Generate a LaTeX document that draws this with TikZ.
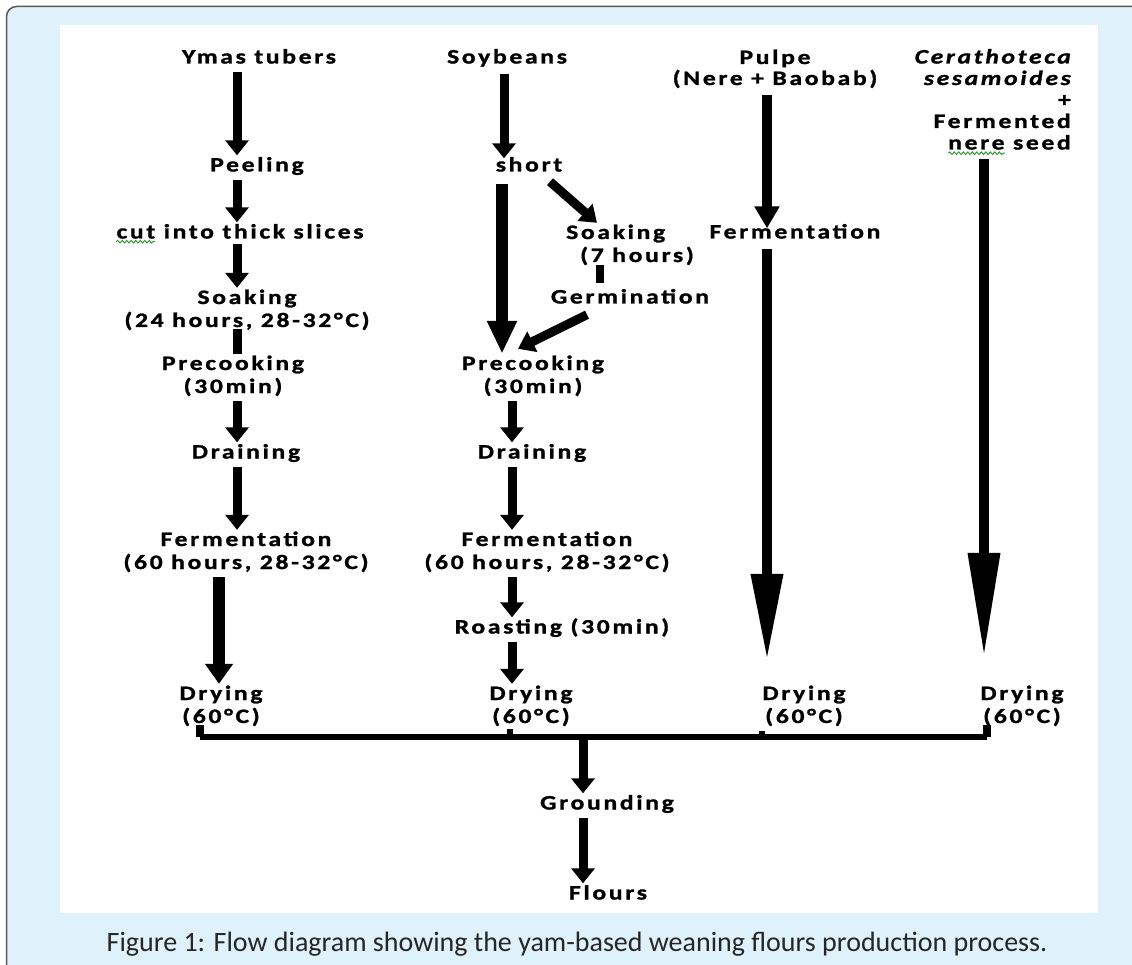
\documentclass[tikz,border=0pt]{standalone}
\usepackage{fontspec}
\setmainfont{Carlito}
\newfontfamily\diagfont[LetterSpace=13,FakeStretch=1.25,FakeBold=1.2]{Carlito}
\usetikzlibrary{arrows.meta,calc,decorations.pathmorphing}
\definecolor{bgblue}{RGB}{223,241,251}
\definecolor{squig}{RGB}{40,150,40}
\newcommand\ts{\rule{0pt}{16pt}}
\newcommand\bs{\rule[-5pt]{0pt}{5pt}}
\newcommand\dfont{\diagfont\bfseries\fontsize{20.5}{23}\selectfont}
\newlength\nerew
\newlength\nerewA
\newlength\cutw
\begin{document}
\settowidth\nerew{\dfont nere seed}%
\settowidth\nerewA{\dfont nere}%
\settowidth\cutw{\dfont cut}%
\begin{tikzpicture}[x=1pt,y=-1pt,
  lbl/.style={font=\dfont, inner sep=0pt, align=center, text=black},
  one/.style={lbl, text height=16pt, text depth=5pt},
  arr/.style={line width=9pt, shorten <=3pt, -{Triangle[width=23pt,length=15pt]}},
  arrbig/.style={line width=11.5pt, shorten <=3pt, -{Triangle[width=27pt,length=20pt]}},
  arrvert/.style={line width=12pt, shorten <=7pt, -{Triangle[width=28pt,length=33pt]}},
  arrdiag/.style={line width=9pt, -{Triangle[width=22pt,length=16pt]}},
  arrlong/.style={line width=10pt, -{Triangle[width=30pt,length=#1]}},
  barline/.style={line width=9pt},
  squiggle/.style={draw=squig, line width=0.9pt, decorate, decoration={snake, amplitude=1.3pt, segment length=4.5pt}},
]
\useasboundingbox (0,0) rectangle (1132,965);
\begin{scope}
  \clip (0,0) rectangle (1132,965);
  \draw[draw=black!65, line width=1.5pt, fill=bgblue, rounded corners=10pt] (6.5,6.5) rectangle (1160,1000);
\end{scope}
\fill[white] (60,25) rectangle (1098,913);

% column x positions
\coordinate (X1) at (237,0);
\coordinate (X1b) at (219,0);
\coordinate (X2) at (512,0);
\coordinate (X2a) at (504,0);
\coordinate (X2v) at (502,0);
\coordinate (X2s) at (600,0);
\coordinate (X3) at (767,0);
\coordinate (X4) at (984,0);

% column 1
\node[one] (y1) at (259,58) {Ymas tubers};
\node[one] (y2) at (257,166) {Peeling};
\node[one] (y3) at (240,233) {cut into thick slices};
\node[lbl] (y4) at (247,310) {\ts Soaking\\(24 hours, 28-32°C)\bs};
\node[lbl] (y5) at (233,376) {\ts Precooking\\(30min)\bs};
\node[one] (y6) at (246,453) {Draining};
\node[lbl] (y7) at (246,552) {\ts Fermentation\\(60 hours, 28-32°C)\bs};
\node[lbl] (y8) at (221,706) {\ts Drying\\(60°C)\bs};

% column 2
\node[one] (s1) at (507,58) {Soybeans};
\node[one] (s2) at (529,166) {short};
\node[lbl, align=left] (s3) at (630,245) {\ts Soaking\\\hspace*{14pt}(7 hours)\bs};
\node[one] (s4) at (630,298) {Germination};
\node[lbl] (s5) at (533,376) {\ts Precooking\\(30min)\bs};
\node[one] (s6) at (532,453) {Draining};
\node[lbl] (s7) at (547,552) {\ts Fermentation\\(60 hours, 28-32°C)\bs};
\node[one] (s8) at (562,628) {Roasting (30min)};
\node[lbl] (s9) at (531,706) {\ts Drying\\(60°C)\bs};

% column 3
\node[lbl, font=\diagfont\bfseries\fontsize{20.5}{21}\selectfont] (p1) at (775,69) {\ts Pulpe\\(Nere + Baobab)\bs};
\node[one] (p2) at (795,233) {Fermentation};
\node[lbl] (p3) at (804,706) {\ts Drying\\(60°C)\bs};

% column 4
\node[lbl, align=right, anchor=east, font=\diagfont\bfseries\fontsize{20.5}{21.5}\selectfont] (c1) at (1071,101)
  {\ts{\itshape Cerathoteca}\\{\itshape sesamoides}\\+\\Fermented\\nere seed\bs};
\node[lbl] (c2) at (1022,706) {\ts Drying\\(60°C)\bs};

% bottom
\node[one] (g) at (607,804) {Grounding};
\node[one] (f) at (608,894) {Flours};

% spell-check squiggles
\draw[squiggle] ($(y3.south west)+(0pt,2pt)$) -- ++(\cutw,0pt);
\draw[squiggle] ($(c1.south east)+(-\nerew,1.5pt)$) -- ++(\nerewA,0pt);

% column 1 arrows
\draw[arr] (y1.south -| X1) -- (y2.north -| X1);
\draw[arr] (y2.south -| X1) -- (y3.north -| X1);
\draw[arr, shorten <=0pt] (y3.south -| X1) -- (y4.north -| X1);
\draw[barline, shorten <=-3.5pt] (y4.south -| X1) -- (y5.north -| X1);
\draw[arr] (y5.south -| X1) -- (y6.north -| X1);
\draw[arr] (y6.south -| X1) -- (y7.north -| X1);
\draw[arrbig] (y7.south -| X1b) -- (y8.north -| X1b);

% column 2 arrows
\draw[arr, shorten <=5pt, shorten >=-3pt] (s1.south -| X2a) -- (s2.north -| X2a);
\draw[arrvert] (s2.south -| X2v) -- (s5.north -| X2v);
\draw[arrdiag] ($(s2.south)+(21,5)$) -- ($(s3.north)+(-33,0)$);
\draw[line width=8pt, shorten <=-2pt, shorten >=4pt] (s3.south -| X2s) -- (s4.north -| X2s);
\draw[arrdiag] ($(s4.south)+(-43,6)$) -- ($(s5.north)+(-15,-5)$);
\draw[arr] (s5.south -| X2) -- (s6.north -| X2);
\draw[arr] (s6.south -| X2) -- (s7.north -| X2);
\draw[arr] (s7.south -| X2) -- (s8.north -| X2);
\draw[arr] (s8.south -| X2) -- (s9.north -| X2);

% column 3 and 4 arrows
\draw[line width=10pt, shorten <=5pt, shorten >=-6pt, -{Triangle[width=24pt,length=22pt]}] (p1.south -| X3) -- (p2.north -| X3);
\draw[arrlong=87pt, shorten <=5pt, shorten >=23pt] (p2.south -| X3) -- (p3.north -| X3);
\draw[arrlong=105pt, shorten <=4pt, shorten >=26pt] (c1.south -| X4) -- (c2.north -| X4);

% joining bar
\coordinate (j1) at (200,737);
\coordinate (j2) at (510,737);
\coordinate (j3) at (762,737);
\coordinate (j4) at (987,737);
\coordinate (jm) at (583,737);
\draw[line width=8pt, shorten <=-3pt] (y8.south -| j1) -- (j1);
\draw[line width=6pt, shorten <=1pt, shorten >=3pt] (s9.south -| j2) -- (j2);
\draw[line width=6pt, shorten <=3pt, shorten >=3pt] (p3.south -| j3) -- (j3);
\draw[line width=8pt, shorten <=-3pt] (c2.south -| j4) -- (j4);
\draw[line width=6pt] (j1) -- (j4);
\draw[arr, shorten <=0pt] (jm) -- (g.north -| jm);
\draw[arr] (g.south -| jm) -- (f.north -| jm);

% caption
\node[font=\fontsize{28}{32}\selectfont, text=black!85, inner sep=0pt] (cap) at (577,944)
  {Figure 1: Flow diagram showing the yam-based weaning flours production process.};
\end{tikzpicture}
\end{document}
